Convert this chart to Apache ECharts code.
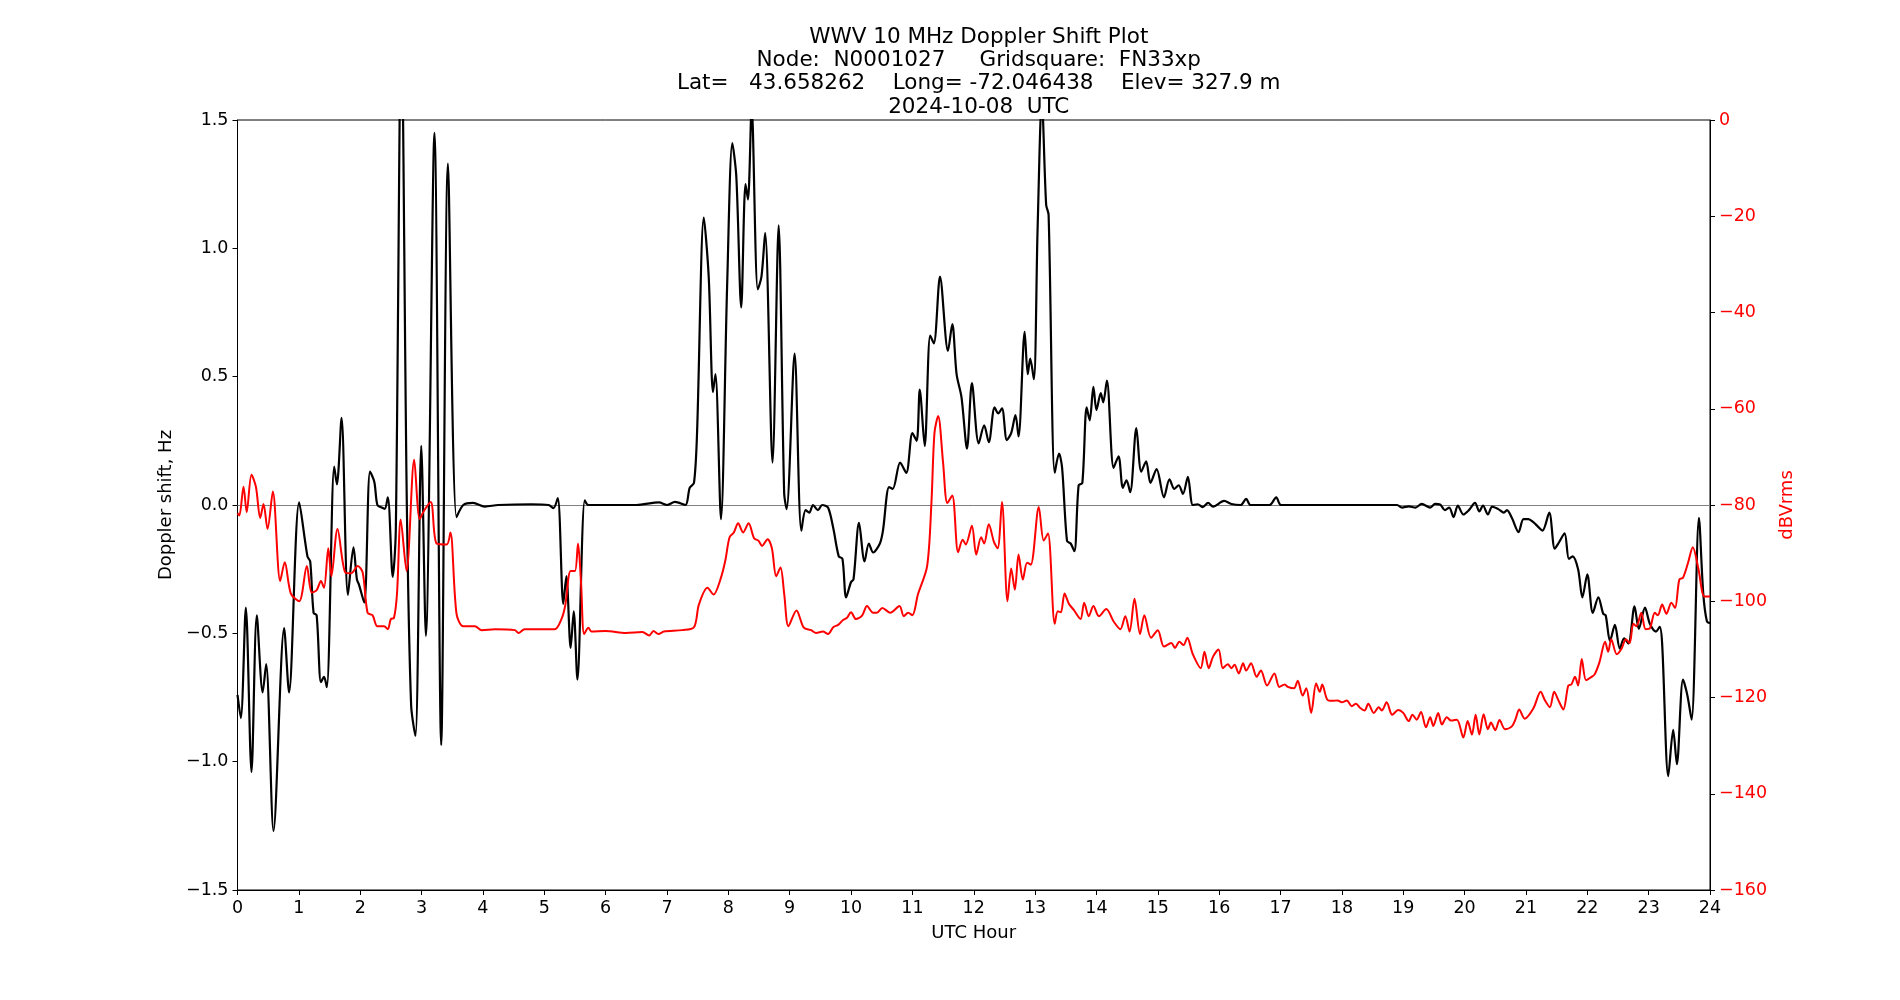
<!DOCTYPE html>
<html>
<head>
<meta charset="utf-8">
<script src="https://cdn.jsdelivr.net/npm/echarts@6/dist/echarts.min.js"></script>
<style>
html,body{margin:0;padding:0;background:#fff;}
#chart{width:1900px;height:1000px;}
</style>
</head>
<body>
<div id="chart"></div>
<script>
// ---- Data ----
const titleLines = [
  'WWV 10 MHz Doppler Shift Plot',
  'Node:  N0001027     Gridsquare:  FN33xp',
  'Lat=   43.658262    Long= -72.046438    Elev= 327.9 m',
  '2024-10-08  UTC'
];

const blackHours = [0.0,0.054,0.136,0.228,0.315,0.41,0.467,0.587,0.76,0.84,1.005,1.14,1.185,1.24,1.29,1.36,1.41,1.456,1.576,1.62,1.696,1.80,1.89,1.946,1.98,2.065,2.16,2.23,2.28,2.35,2.40,2.45,2.53,2.58,2.67,2.76,2.83,2.9,2.995,3.07,3.21,3.32,3.43,3.57,3.68,3.84,4.03,4.25,4.79,5.07,5.15,5.22,5.31,5.36,5.43,5.48,5.54,5.66,5.72,6.0,6.5,6.87,7.0,7.13,7.3,7.37,7.44,7.49,7.6,7.68,7.75,7.79,7.88,7.98,8.065,8.13,8.21,8.28,8.32,8.38,8.48,8.54,8.6,8.72,8.82,8.91,8.95,9.08,9.19,9.26,9.32,9.38,9.46,9.53,9.625,9.71,9.8,9.86,9.92,10.0,10.04,10.13,10.22,10.29,10.36,10.47,10.52,10.62,10.68,10.8,10.9,11.0,11.07,11.12,11.2,11.29,11.35,11.45,11.58,11.65,11.72,11.8,11.89,11.97,12.08,12.17,12.245,12.34,12.4,12.46,12.54,12.61,12.68,12.73,12.83,12.88,12.92,12.98,13.04,13.11,13.18,13.22,13.32,13.39,13.44,13.52,13.58,13.64,13.71,13.77,13.84,13.89,13.95,14.0,14.07,14.11,14.17,14.28,14.36,14.43,14.49,14.55,14.65,14.73,14.81,14.88,14.98,15.1,15.19,15.27,15.34,15.41,15.49,15.57,15.65,15.73,15.82,15.9,16.08,16.2,16.35,16.44,16.51,16.82,16.93,17.01,18.0,18.9,18.98,19.09,19.2,19.3,19.44,19.52,19.6,19.68,19.75,19.82,19.89,19.98,20.07,20.17,20.24,20.3,20.38,20.45,20.55,20.64,20.69,20.77,20.88,20.96,21.04,21.12,21.2,21.27,21.38,21.47,21.54,21.63,21.7,21.76,21.85,21.92,22.0,22.09,22.18,22.26,22.3,22.37,22.45,22.53,22.6,22.67,22.77,22.84,22.94,23.02,23.12,23.18,23.22,23.32,23.4,23.46,23.56,23.63,23.7,23.82,23.89,23.95,24.0];
const dopplerHz = [-0.74,-0.83,-0.40,-1.04,-0.43,-0.73,-0.62,-1.27,-0.48,-0.73,0.01,-0.2,-0.22,-0.42,-0.43,-0.69,-0.67,-0.71,0.15,0.08,0.34,-0.35,-0.165,-0.29,-0.31,-0.38,0.13,0.09,0.0,-0.01,-0.015,0.03,-0.28,-0.1,1.9,0.0,-0.78,-0.9,0.23,-0.51,1.45,-0.935,1.33,-0.047,0.0,0.008,-0.006,0.0,0.003,0.0,-0.012,0.027,-0.385,-0.277,-0.557,-0.414,-0.68,0.018,0.0,0.0,0.0,0.01,0.0,0.012,0.0,0.067,0.086,0.28,1.12,0.89,0.44,0.51,-0.055,0.85,1.41,1.28,0.77,1.25,1.19,1.55,0.84,0.89,1.06,0.165,1.09,0.047,-0.016,0.59,-0.1,-0.02,-0.03,0.0,-0.02,0.0,-0.01,-0.09,-0.2,-0.21,-0.36,-0.3,-0.29,-0.07,-0.22,-0.15,-0.185,-0.15,-0.1,0.07,0.063,0.165,0.125,0.28,0.25,0.45,0.23,0.66,0.63,0.89,0.6,0.705,0.51,0.42,0.22,0.475,0.24,0.31,0.245,0.38,0.357,0.377,0.253,0.28,0.35,0.267,0.675,0.51,0.57,0.49,1.07,1.58,1.17,1.13,0.126,0.2,0.145,-0.14,-0.15,-0.18,0.077,0.086,0.38,0.33,0.46,0.37,0.436,0.40,0.485,0.145,0.19,0.067,0.096,0.05,0.3,0.13,0.17,0.086,0.14,0.03,0.1,0.063,0.077,0.043,0.11,0.0,0.003,-0.008,0.008,-0.006,0.016,0.004,0.0,0.024,0.0,0.0,0.03,0.0,0.0,0.0,-0.01,-0.005,-0.01,0.004,-0.01,0.004,0.002,-0.02,-0.01,-0.047,-0.002,-0.037,-0.02,0.008,-0.025,-0.002,-0.037,-0.006,-0.016,-0.03,-0.02,-0.05,-0.106,-0.055,-0.055,-0.067,-0.085,-0.1,-0.03,-0.17,-0.145,-0.11,-0.21,-0.2,-0.25,-0.36,-0.27,-0.42,-0.36,-0.424,-0.43,-0.53,-0.467,-0.56,-0.52,-0.54,-0.395,-0.483,-0.4,-0.463,-0.493,-0.475,-0.54,-1.056,-0.876,-1.01,-0.68,-0.74,-0.836,-0.05,-0.345,-0.454,-0.46];

const redHours = [0.0,0.03,0.098,0.15,0.228,0.30,0.37,0.424,0.49,0.576,0.696,0.77,0.87,1.005,1.13,1.21,1.29,1.36,1.41,1.48,1.53,1.63,1.755,1.85,1.96,2.04,2.12,2.2,2.28,2.39,2.45,2.5,2.55,2.6,2.66,2.755,2.88,2.97,3.04,3.15,3.245,3.41,3.47,3.57,3.68,3.87,3.98,4.2,4.52,4.58,4.68,5.17,5.28,5.34,5.43,5.5,5.55,5.6,5.65,5.72,5.77,6.0,6.33,6.6,6.71,6.78,6.86,6.95,7.25,7.44,7.52,7.66,7.76,7.875,7.95,8.02,8.09,8.16,8.24,8.33,8.42,8.49,8.55,8.64,8.71,8.78,8.85,8.91,8.98,9.11,9.23,9.35,9.43,9.54,9.625,9.71,9.79,9.87,9.93,10.0,10.08,10.18,10.26,10.36,10.42,10.51,10.64,10.79,10.86,10.93,11.0,11.09,11.24,11.31,11.36,11.42,11.5,11.57,11.65,11.745,11.82,11.87,11.97,12.04,12.12,12.17,12.245,12.33,12.39,12.46,12.55,12.61,12.67,12.73,12.8,12.87,12.93,13.06,13.14,13.21,13.32,13.37,13.42,13.48,13.55,13.63,13.74,13.8,13.875,13.95,14.04,14.16,14.28,14.39,14.47,14.54,14.62,14.71,14.78,14.89,15.0,15.1,15.22,15.28,15.35,15.42,15.48,15.57,15.7,15.76,15.83,15.9,15.99,16.06,16.14,16.2,16.25,16.32,16.39,16.44,16.52,16.61,16.68,16.78,16.9,16.98,17.07,17.12,17.22,17.28,17.36,17.42,17.5,17.58,17.64,17.68,17.76,17.85,17.93,18.0,18.08,18.16,18.23,18.3,18.37,18.43,18.52,18.6,18.65,18.73,18.82,18.92,19.0,19.09,19.15,19.22,19.29,19.37,19.44,19.49,19.57,19.63,19.71,19.78,19.875,19.98,20.05,20.12,20.18,20.24,20.31,20.38,20.43,20.5,20.57,20.66,20.77,20.83,20.89,20.98,21.12,21.24,21.31,21.39,21.46,21.53,21.61,21.69,21.74,21.8,21.85,21.91,21.98,22.07,22.12,22.2,22.29,22.34,22.39,22.48,22.56,22.63,22.69,22.75,22.8,22.88,22.95,23.02,23.1,23.15,23.22,23.29,23.37,23.43,23.5,23.56,23.64,23.72,23.81,23.91,24.0];
const signalDb = [-81.7,-82.2,-76.2,-81.5,-73.7,-76.2,-82.7,-79.8,-85,-77.2,-95.8,-91.9,-98.4,-100,-92.7,-98.2,-97.7,-95.8,-97.2,-89,-94.8,-85,-94,-94.2,-92.7,-94,-102.4,-102.9,-105.2,-105.2,-105.8,-103.7,-103.5,-98.4,-83,-93.7,-70.6,-82.9,-81.2,-79.4,-88,-88.2,-85.7,-102.6,-105.2,-105.2,-106,-105.8,-106,-106.6,-105.8,-105.8,-103.7,-101,-93.7,-93.7,-88,-96.3,-106.8,-105.5,-106.3,-106.2,-106.6,-106.4,-107.1,-106.2,-106.8,-106.3,-106,-105.4,-100.7,-97.2,-98.6,-95.3,-91.6,-86.7,-85.7,-83.8,-85.7,-83.8,-86.9,-87.4,-88.5,-87.1,-89,-94.8,-93,-98.4,-105.2,-101.9,-105.5,-106,-106.6,-106.3,-106.8,-105.4,-104.9,-103.9,-103.5,-102.3,-103.7,-103,-101,-102.4,-102.4,-101.4,-102.4,-101,-103.1,-102.4,-102.9,-98.6,-92.7,-79.6,-65,-61.5,-71.2,-79.6,-78,-89.8,-87.2,-88.2,-84.3,-90.3,-86.7,-88,-84,-87.7,-89,-79.4,-100,-93.2,-97.6,-90.3,-95.5,-92,-92.4,-80.4,-87.4,-85.9,-104.7,-102.1,-102.3,-98.4,-100.5,-101.8,-103.7,-100.3,-103.1,-101,-103.1,-101.6,-104.2,-105.8,-103.1,-106.3,-99.5,-106.8,-102.9,-107.6,-106,-109.4,-108.7,-109.7,-108.4,-109.1,-107.6,-111,-113.9,-110.5,-113.9,-111.5,-110,-113.9,-113.1,-113.9,-113.2,-115,-112.9,-114.4,-112.9,-115.7,-114.4,-117.5,-115,-117.8,-117.3,-117.8,-118.1,-116.5,-119.6,-118.1,-123.2,-117.1,-118.8,-117.3,-120.4,-120.7,-120.6,-121,-120.6,-121.8,-121.3,-122.2,-122.7,-121.3,-123.2,-122,-122.7,-121,-123.6,-122.6,-123.2,-124.9,-123.6,-124.6,-123,-126.2,-124.1,-125.9,-123.2,-125.6,-124.1,-124.8,-124.6,-128.3,-124.9,-127.7,-123.6,-127.7,-123.5,-126.6,-125.2,-126.8,-124.7,-126.6,-126,-124.5,-122.5,-124.4,-122.3,-118.8,-120.6,-122,-118.8,-120.6,-122.5,-117.5,-117.3,-115.7,-117.5,-112,-116.4,-115.7,-115.2,-112.6,-108.4,-110.5,-107.9,-111,-109.8,-107.9,-108.7,-104.7,-105.2,-102.4,-105.8,-105.6,-102.4,-102.9,-100.7,-102.6,-100.3,-101.4,-95.5,-95.1,-92.1,-88.8,-93.2,-99,-99];

const xTicks = {min: 0, max: 24, step: 1};
const leftTicks = {min: -1.5, max: 1.5, step: 0.5};
const rightTicks = {min: -160, max: 0, step: 20};

// ---- Build ----
const zip = (a, b) => a.map((x, i) => [x, b[i]]);
const minus = s => String(s).replace('-', '\u2212');
const FONT = 'DejaVu Sans';
const TICK_FS = 17.5;
const NAME_FS = 18;

const chart = echarts.init(document.getElementById('chart'), null, {renderer: 'canvas'});
chart.setOption({
  animation: false,
  backgroundColor: '#ffffff',
  textStyle: {fontFamily: FONT},
  title: {
    text: titleLines.join('\n'),
    left: 973.75,
    top: 20.5,
    textAlign: 'center',
    textStyle: {fontFamily: FONT, fontSize: 21.5, fontWeight: 'normal', color: '#000', lineHeight: 23.3}
  },
  grid: {left: 237.5, right: 190, top: 120, bottom: 110, show: true, borderColor: '#000', borderWidth: 1, backgroundColor: 'transparent'},
  xAxis: {
    type: 'value', min: xTicks.min, max: xTicks.max, interval: xTicks.step,
    name: 'UTC Hour', nameLocation: 'middle', nameGap: 34,
    nameTextStyle: {fontFamily: FONT, fontSize: NAME_FS, color: '#000'},
    axisLine: {show: true, onZero: false, lineStyle: {color: '#000', width: 1}},
    axisTick: {show: true, inside: false, length: 5, lineStyle: {color: '#000'}},
    axisLabel: {fontFamily: FONT, fontSize: TICK_FS, color: '#000', margin: 9},
    splitLine: {show: false}
  },
  yAxis: [{
    type: 'value', min: leftTicks.min, max: leftTicks.max, interval: leftTicks.step, position: 'left',
    name: 'Doppler shift, Hz', nameLocation: 'middle', nameGap: 59, nameRotate: 90,
    nameTextStyle: {fontFamily: FONT, fontSize: NAME_FS, color: '#000'},
    axisLine: {show: true, onZero: false, lineStyle: {color: '#000', width: 1}},
    axisTick: {show: true, inside: false, length: 5, lineStyle: {color: '#000'}},
    axisLabel: {fontFamily: FONT, fontSize: TICK_FS, color: '#000', margin: 9, formatter: v => minus(v.toFixed(1))},
    splitLine: {show: false}
  }, {
    type: 'value', min: rightTicks.min, max: rightTicks.max, interval: rightTicks.step, position: 'right',
    name: 'dBVrms', nameLocation: 'middle', nameGap: 64, nameRotate: 90,
    nameTextStyle: {fontFamily: FONT, fontSize: NAME_FS, color: '#ff0000'},
    axisLine: {show: true, onZero: false, lineStyle: {color: '#000', width: 1}},
    axisTick: {show: true, inside: false, length: 5, lineStyle: {color: '#000'}},
    axisLabel: {fontFamily: FONT, fontSize: TICK_FS, color: '#ff0000', margin: 9, formatter: v => minus(v)},
    splitLine: {show: false}
  }],
  series: [{
    name: 'Doppler', type: 'line', yAxisIndex: 0, data: zip(blackHours, dopplerHz),
    showSymbol: false, smooth: 0.3, clip: true,
    lineStyle: {color: '#000', width: 2.2}, z: 2,
    markLine: {silent: true, symbol: ['none', 'none'], label: {show: false},
      lineStyle: {color: '#808080', width: 1, type: 'solid'}, data: [{yAxis: 0}], z: 1}
  }, {
    name: 'Power', type: 'line', yAxisIndex: 1, data: zip(redHours, signalDb),
    showSymbol: false, smooth: 0.3, clip: true,
    lineStyle: {color: '#ff0000', width: 2}, z: 3
  }]
});
</script>
</body>
</html>
